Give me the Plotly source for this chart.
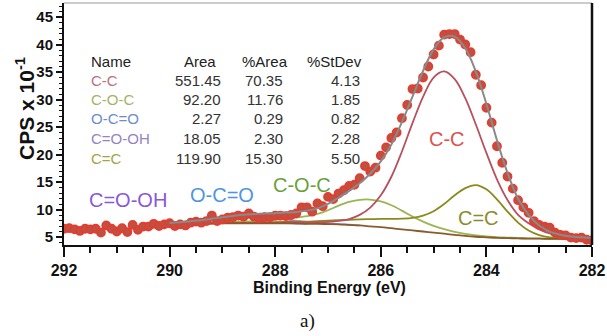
import plotly.graph_objects as go

# ---------------- data ----------------
# measured spectrum, 292.0 -> 282.0 eV in 0.1 eV steps
data_cps = [6.5, 6.6, 6.4, 6.1, 6.5, 6.4, 6.5, 5.8, 7.1, 6.5,
            6.0, 6.6, 5.9, 7.2, 6.3, 6.9, 6.9, 7.4, 7.0, 7.3,
            7.5, 7.0, 7.3, 7.1, 7.6, 7.8, 7.6, 7.9, 8.9, 7.9,
            8.2, 8.5, 8.6, 8.9, 8.7, 9.3, 8.7, 8.4, 8.6, 8.6,
            8.9, 8.9, 8.8, 9.0, 9.3, 10.4, 10.4, 9.6, 11.1, 10.6,
            12.3, 11.9, 12.9, 13.5, 14.3, 14.5, 15.7, 17.9, 16.9, 17.6,
            19.8, 21.3, 23.0, 24.0, 26.6, 29.0, 31.9, 32.0, 34.0, 36.0,
            38.2, 39.8, 41.8, 41.9, 41.9, 40.9, 40.0, 38.6, 34.5, 32.6,
            28.5, 25.8, 21.5, 18.5, 16.0, 13.8, 11.7, 10.4, 9.4, 7.9,
            7.2, 6.9, 6.7, 5.8, 5.4, 5.3, 4.9, 4.8, 4.9, 4.5,
            4.4]
data_energy = [round(292.0 - 0.1 * i, 1) for i in range(len(data_cps))]

# fit curves, 290.0 -> 282.0 eV in 0.2 eV steps
background = [7.3, 7.35, 7.4, 7.4, 7.45, 7.5, 7.5, 7.5, 7.5, 7.5,
              7.5, 7.5, 7.45, 7.4, 7.4, 7.35, 7.3, 7.2, 7.1, 6.95,
              6.8, 6.6, 6.4, 6.2, 6.0, 5.8, 5.6, 5.4, 5.2, 5.05,
              4.95, 4.85, 4.8, 4.75, 4.7, 4.7, 4.65, 4.65, 4.6, 4.6,
              4.6]
comp_cc = [0.03, 0.03, 0.04, 0.04, 0.05, 0.06, 0.07, 0.08, 0.09, 0.11,
           0.13, 0.16, 0.19, 0.24, 0.30, 0.41, 0.62, 1.06, 1.92, 3.40,
           5.79, 9.36, 14.15, 19.5, 24.5, 28.2, 29.5, 28.3, 25.05, 20.4,
           15.35, 10.65, 6.93, 4.28, 2.8, 1.7, 1.0, 0.6, 0.4, 0.28,
           0.2]
comp_coc = [0.09, 0.10, 0.12, 0.15, 0.17, 0.19, 0.24, 0.32, 0.39, 0.49,
            0.63, 0.82, 1.07, 1.41, 1.79, 2.52, 3.40, 4.17, 4.66, 4.85,
            4.66, 4.17, 3.40, 2.52, 1.79, 1.21, 0.82, 0.53, 0.36, 0.24,
            0.17, 0.12, 0.10, 0.07, 0.06, 0.05, 0.04, 0.03, 0.02, 0.02,
            0.01]
comp_oco = [0.04, 0.065, 0.09, 0.11, 0.125, 0.13, 0.125, 0.11, 0.09, 0.065,
            0.04, 0.03, 0.015, 0.01, 0, 0, 0, 0, 0, 0,
            0, 0, 0, 0, 0, 0, 0, 0, 0, 0,
            0, 0, 0, 0, 0, 0, 0, 0, 0, 0,
            0]
comp_cooh = [0.06, 0.12, 0.21, 0.34, 0.50, 0.68, 0.84, 0.96, 1.0, 0.96,
             0.84, 0.68, 0.50, 0.34, 0.21, 0.12, 0.06, 0.03, 0.01, 0,
             0, 0, 0, 0, 0, 0, 0, 0, 0, 0,
             0, 0, 0, 0, 0, 0, 0, 0, 0, 0,
             0]
comp_cdc = [0.01, 0.02, 0.02, 0.03, 0.04, 0.05, 0.06, 0.08, 0.10, 0.14,
            0.19, 0.25, 0.32, 0.40, 0.50, 0.62, 0.76, 0.92, 1.10, 1.30,
            1.50, 1.70, 1.95, 2.30, 2.90, 3.90, 5.40, 7.20, 8.70, 9.40,
            8.73, 6.99, 4.82, 2.87, 1.48, 0.65, 0.30, 0.15, 0.08, 0.05,
            0.03]
fit_energy = [round(290.0 - 0.2 * i, 1) for i in range(len(background))]

# quantification table
names = ["C-C", "C-O-C", "O-C=O", "C=O-OH", "C=C"]
areas = ["551.45", "92.20", "2.27", "18.05", "119.90"]
pct_area = ["70.35", "11.76", "0.29", "2.30", "15.30"]
pct_stdev = ["4.13", "1.85", "0.82", "2.28", "5.50"]

# ---------------- styling ----------------
PL, PR, PT, PB = 64, 592, 3, 245
W, H = 607, 336


def px(x):
    return (x - PL) / (PR - PL)


def py(y):
    return (PB - y) / (PB - PT)


FONT = "Liberation Sans, Arial, sans-serif"
line_col = {"C-C": "#b8505e", "C-O-C": "#9ab552", "O-C=O": "#7f9ccc",
            "C=O-OH": "#9a8ab8", "C=C": "#8a8a1c"}
table_col = {"C-C": "#c0707a", "C-O-C": "#a4b468", "O-C=O": "#6c8ccc",
             "C=O-OH": "#9484c4", "C=C": "#a4a444"}
label_col = {"C-C": "#e0504a", "C-O-C": "#6aa03c", "O-C=O": "#4d94e6",
             "C=O-OH": "#8a58d8", "C=C": "#8c8c2a"}

fig = go.Figure()


def visible(vals):
    # keep each small component only over the range where it rises above background
    idx = [i for i, v in enumerate(vals) if v > 0]
    return idx[0], idx[-1] + 1


comps = [("C=O-OH", comp_cooh), ("O-C=O", comp_oco), ("C-O-C", comp_coc),
         ("C=C", comp_cdc), ("C-C", comp_cc)]
for name, vals in comps:
    a, b = visible(vals)
    fig.add_trace(go.Scatter(x=fit_energy[a:b],
                             y=[bg + v for bg, v in zip(background[a:b], vals[a:b])],
                             mode="lines",
                             line=dict(color=line_col[name], width=1.8, shape="spline"),
                             hoverinfo="skip"))
# background
fig.add_trace(go.Scatter(x=fit_energy, y=background, mode="lines",
                         line=dict(color="#8b5a2b", width=1.8, shape="spline"),
                         hoverinfo="skip"))

# measured points
fig.add_trace(go.Scatter(x=data_energy, y=data_cps, mode="markers",
                         marker=dict(size=8, color="#bc5244",
                                     line=dict(color="#e63c2e", width=1.8)),
                         hoverinfo="skip"))

# envelope
envelope = [b + a + c + d + e + f for b, a, c, d, e, f in
            zip(background, comp_cc, comp_coc, comp_oco, comp_cooh, comp_cdc)]
fig.add_trace(go.Scatter(x=fit_energy, y=envelope, mode="lines",
                         line=dict(color="#8a8a8a", width=2, shape="spline"),
                         hoverinfo="skip"))

annotations = []
# table
row_y = [80, 99, 118, 138, 158]
hdr_y = 62
for txt, x in [("Name", 89), ("Area", 182), ("%Area", 240), ("%StDev", 305)]:
    annotations.append(dict(x=px(x), y=py(hdr_y), xref="paper", yref="paper",
                            text=txt, showarrow=False, xanchor="left", yanchor="middle",
                            font=dict(family=FONT, size=15, color="#222222")))
for i, n in enumerate(names):
    annotations.append(dict(x=px(89), y=py(row_y[i]), xref="paper", yref="paper",
                            text=n, showarrow=False, xanchor="left", yanchor="middle",
                            font=dict(family=FONT, size=15, color=table_col[n])))
    for col, xr in [(areas, 223), (pct_area, 285), (pct_stdev, 362)]:
        annotations.append(dict(x=px(xr), y=py(row_y[i]), xref="paper", yref="paper",
                                text=col[i], showarrow=False, xanchor="right", yanchor="middle",
                                font=dict(family=FONT, size=15, color="#333333")))

# peak labels
for n, (x, y) in {"C-C": (447, 139), "C=C": (478, 218), "C-O-C": (302, 185),
                  "O-C=O": (222, 195), "C=O-OH": (128, 200)}.items():
    annotations.append(dict(x=px(x), y=py(y), xref="paper", yref="paper", text=n,
                            showarrow=False, xanchor="center", yanchor="middle",
                            font=dict(family=FONT, size=20, color=label_col[n])))

# axis titles and caption
annotations.append(dict(x=px(25), y=py(109), xref="paper", yref="paper",
                        text="<b>CPS x 10<sup>-1</sup></b>", textangle=-90, showarrow=False,
                        xanchor="center", yanchor="middle",
                        font=dict(family=FONT, size=21, color="#111111")))
annotations.append(dict(x=px(329), y=py(287), xref="paper", yref="paper",
                        text="<b>Binding Energy (eV)</b>", showarrow=False,
                        xanchor="center", yanchor="middle",
                        font=dict(family=FONT, size=16, color="#111111")))
annotations.append(dict(x=px(307), y=py(321), xref="paper", yref="paper",
                        text="a)", showarrow=False, xanchor="center", yanchor="middle",
                        font=dict(family="Liberation Serif, Times New Roman, serif",
                                  size=19, color="#111111")))

fig.update_layout(
    width=W, height=H,
    margin=dict(l=PL, r=W - PR, t=PT, b=H - PB),
    plot_bgcolor="white", paper_bgcolor="white",
    showlegend=False,
    annotations=annotations,
    shapes=[
        dict(type="line", xref="paper", yref="paper", x0=0, x1=1, y0=1, y1=1,
             line=dict(color="#9a9a9a", width=1)),
        dict(type="line", xref="paper", yref="paper", x0=1, x1=1, y0=0, y1=1,
             line=dict(color="#111111", width=2.5)),
    ],
)
fig.update_xaxes(range=[292, 282], tick0=282, dtick=2, ticks="outside",
                 ticklen=10, tickwidth=2, tickcolor="#111111",
                 showline=True, linecolor="#111111", linewidth=2,
                 showgrid=False, zeroline=False,
                 tickfont=dict(family=FONT, size=16, color="#111111", weight="bold"),
                 minor=dict(dtick=0.5, ticks="outside", ticklen=6, tickwidth=1.5,
                            tickcolor="#111111", showgrid=False))
fig.update_yaxes(range=[3.55, 47.55], tick0=5, dtick=5, ticks="outside",
                 ticklen=6, tickwidth=1.5, tickcolor="#111111",
                 showline=True, linecolor="#111111", linewidth=2,
                 showgrid=False, zeroline=False,
                 tickfont=dict(family=FONT, size=15, color="#111111", weight="bold"),
                 minor=dict(dtick=1, ticks="outside", ticklen=3, tickwidth=1,
                            tickcolor="#111111", showgrid=False))

fig.write_html("out.html", config={"displayModeBar": False},
               post_script="document.body.style.margin='0px';document.body.style.overflow='hidden';")
